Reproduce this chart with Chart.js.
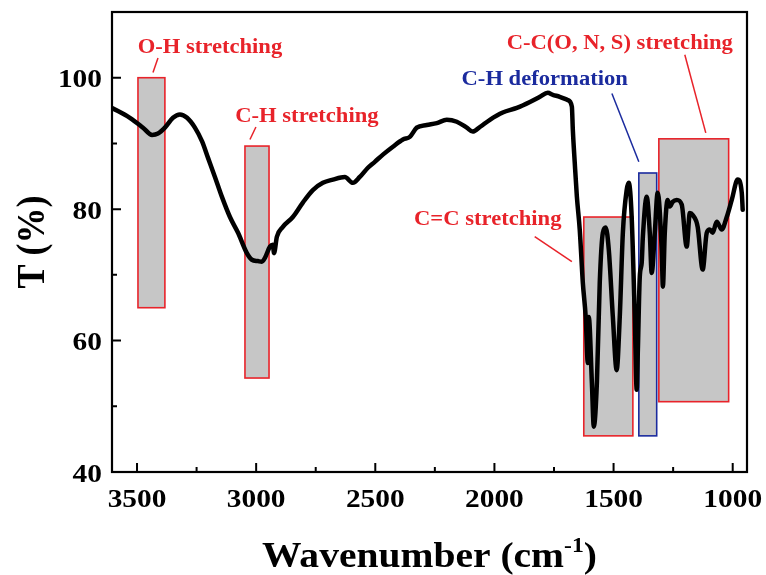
<!DOCTYPE html>
<html>
<head>
<meta charset="utf-8">
<script src="https://cdn.jsdelivr.net/npm/chart.js@4.4.1/dist/chart.umd.min.js"></script>
<style>
  html, body { margin: 0; padding: 0; background: #fff; }
  #fontProbe { position: absolute; left: -999px; top: 0; font: bold 20px "Liberation Serif"; }
</style>
</head>
<body>
<span id="fontProbe">Wavenumber 0123456789</span>
<canvas id="ftir" width="766" height="575"></canvas>
<script>
// FTIR spectrum, wavenumber (cm-1) vs transmittance (%)
const wavenumber = [
  3605, 3530, 3475, 3437, 3412, 3383, 3349, 3320, 3290, 3257,
  3227, 3202, 3173, 3144, 3110, 3076, 3039, 3018, 2993, 2976,
  2963, 2942, 2930, 2925, 2913, 2888, 2846, 2804, 2762, 2720,
  2678, 2628, 2594, 2565, 2531, 2502, 2468, 2426, 2384, 2355,
  2326, 2284, 2242, 2200, 2158, 2116, 2091, 2061, 2019, 1965,
  1906, 1851, 1809, 1776, 1755, 1726, 1692, 1675, 1671, 1663,
  1654, 1642, 1629, 1617, 1608, 1604, 1591, 1583, 1570, 1558,
  1545, 1533, 1520, 1503, 1487, 1474, 1461, 1445, 1436, 1424,
  1411, 1403, 1398, 1390, 1382, 1377, 1361, 1348, 1340, 1327,
  1315, 1298, 1293, 1285, 1273, 1264, 1252, 1235, 1214, 1193,
  1180, 1168, 1147, 1126, 1109, 1096, 1084, 1067, 1046, 1025,
  1004, 979, 962, 958
];
const transmittance = [
  95.4, 93.9, 92.4, 91.3, 91.5, 92.4, 93.9, 94.4, 93.9, 92.4,
  90.3, 87.8, 84.9, 81.9, 78.8, 76.4, 73.3, 72.3, 72.1, 72.0,
  72.6, 74.3, 74.6, 73.3, 75.8, 77.3, 78.8, 81.0, 82.9, 84.0,
  84.5, 84.9, 84.0, 84.9, 86.3, 87.2, 88.3, 89.5, 90.6, 91.0,
  92.4, 92.8, 93.1, 93.6, 93.3, 92.4, 91.8, 92.5, 93.6, 94.7,
  95.4, 96.3, 97.1, 97.7, 97.4, 97.1, 96.6, 95.6, 92.1, 87.1,
  81.9, 76.9, 68.8, 63.6, 56.6, 63.6, 53.6, 46.9, 53.6, 68.8,
  76.4, 77.2, 73.8, 63.6, 55.5, 63.6, 76.4, 82.9, 84.0, 78.8,
  63.6, 52.5, 58.6, 69.7, 71.8, 75.8, 81.9, 76.4, 70.3, 76.4,
  82.5, 73.8, 68.2, 76.4, 81.4, 80.4, 81.1, 81.4, 80.7, 74.3,
  79.4, 79.1, 77.3, 70.8, 76.4, 76.9, 76.4, 78.1, 76.9, 78.8,
  81.4, 84.5, 82.5, 79.9
];

const xTicks = [3500, 3000, 2500, 2000, 1500, 1000];
const yTicks = [40, 60, 80, 100];

// assigned absorption bands (wavenumber range, T range of the shaded box)
const bandNames = ['O-H stretching', 'C-H stretching', 'C=C stretching', 'C-H deformation', 'C-C(O, N, S) stretching'];
const bandFrom = [3496, 3047, 1625, 1394, 1310];
const bandTo   = [3383, 2946, 1419, 1319, 1017];
const bandLow  = [65, 54.3, 45.5, 45.5, 50.7];
const bandHigh = [100, 89.6, 78.8, 85.5, 90.7];

const RED = '#e8232a';
const BLUE = '#1b2b9e';
const bandColor = [RED, RED, RED, BLUE, RED];
// label anchor (baseline centre) and leader line, in data units
const bandLabelAt = [
  { x: 3194, y: 103.8, line: [3433, 100.8, 3412, 103.0] },
  { x: 2787, y: 93.3,  line: [3026, 90.6, 3001, 92.5] },
  { x: 2028, y: 77.6,  line: [1831, 75.8, 1675, 72.0] },
  { x: 1789, y: 98.9,  line: [1507, 97.6, 1394, 87.2] },
  { x: 1474, y: 104.4, line: [1201, 103.5, 1113, 91.6] }
];

const SERIF = '"Liberation Serif", "Times New Roman", Times, serif';
const SX = 1.13; // text in this figure is a little wide

function txt(ctx, s, x, y, size, color, align) {
  ctx.save();
  ctx.translate(x, y);
  ctx.scale(SX, 1);
  ctx.font = 'bold ' + size + 'px ' + SERIF;
  ctx.fillStyle = color;
  ctx.textAlign = align || 'center';
  ctx.textBaseline = 'alphabetic';
  ctx.fillText(s, 0, 0);
  ctx.restore();
}

const ftirDecor = {
  id: 'ftirDecor',
  beforeDatasetsDraw(chart) {
    const { ctx, scales: { x, y } } = chart;
    ctx.save();
    bandNames.forEach((name, i) => {
      const l = x.getPixelForValue(bandFrom[i]);
      const r = x.getPixelForValue(bandTo[i]);
      const t = y.getPixelForValue(bandHigh[i]);
      const b = y.getPixelForValue(bandLow[i]);
      ctx.fillStyle = '#c6c6c6';
      ctx.fillRect(l, t, r - l, b - t);
      ctx.strokeStyle = bandColor[i];
      ctx.lineWidth = 1.6;
      ctx.strokeRect(l, t, r - l, b - t);
    });
    ctx.restore();
  },
  afterDraw(chart) {
    const { ctx, chartArea: a, scales: { x, y } } = chart;
    ctx.save();

    // band labels + leader lines
    bandNames.forEach((name, i) => {
      const p = bandLabelAt[i];
      txt(ctx, name, x.getPixelForValue(p.x), y.getPixelForValue(p.y), 20, bandColor[i]);
      ctx.beginPath();
      ctx.moveTo(x.getPixelForValue(p.line[0]), y.getPixelForValue(p.line[1]));
      ctx.lineTo(x.getPixelForValue(p.line[2]), y.getPixelForValue(p.line[3]));
      ctx.strokeStyle = bandColor[i];
      ctx.lineWidth = 1.5;
      ctx.stroke();
    });

    // frame
    ctx.strokeStyle = '#000';
    ctx.lineWidth = 2.2;
    ctx.strokeRect(a.left, a.top, a.right - a.left, a.bottom - a.top);

    // inward ticks, majors + minors halfway
    ctx.lineWidth = 2;
    ctx.beginPath();
    xTicks.forEach((v, i) => {
      const px = x.getPixelForValue(v);
      ctx.moveTo(px, a.bottom); ctx.lineTo(px, a.bottom - 9);
      const m = x.getPixelForValue(v - 250);
      if (m < a.right) { ctx.moveTo(m, a.bottom); ctx.lineTo(m, a.bottom - 5); }
      if (i === 0) {
        const m0 = x.getPixelForValue(v + 250);
        if (m0 > a.left) { ctx.moveTo(m0, a.bottom); ctx.lineTo(m0, a.bottom - 5); }
      }
    });
    yTicks.forEach(v => {
      const py = y.getPixelForValue(v);
      ctx.moveTo(a.left, py); ctx.lineTo(a.left + 9, py);
      const m = y.getPixelForValue(v + 10);
      ctx.moveTo(a.left, m); ctx.lineTo(a.left + 5, m);
    });
    ctx.stroke();

    // tick labels
    xTicks.forEach(v => txt(ctx, String(v), x.getPixelForValue(v), a.bottom + 35, 26, '#000'));
    yTicks.forEach(v => txt(ctx, String(v), a.left - 10, y.getPixelForValue(v) + 9.5, 26, '#000', 'right'));

    // x title with superscript
    const cx = (a.left + a.right) / 2;
    ctx.font = 'bold 35px ' + SERIF;
    const w1 = ctx.measureText('Wavenumber (cm').width * SX;
    ctx.font = 'bold 21px ' + SERIF;
    const w2 = ctx.measureText('-1').width * SX;
    ctx.font = 'bold 35px ' + SERIF;
    const w3 = ctx.measureText(')').width * SX;
    const sx = cx - (w1 + w2 + w3) / 2;
    const base = 567;
    txt(ctx, 'Wavenumber (cm', sx, base, 35, '#000', 'left');
    txt(ctx, '-1', sx + w1, base - 15, 21, '#000', 'left');
    txt(ctx, ')', sx + w1 + w2, base, 35, '#000', 'left');

    // y title, rotated
    ctx.save();
    ctx.translate(44, (a.top + a.bottom) / 2);
    ctx.rotate(-Math.PI / 2);
    ctx.scale(1, SX);
    ctx.font = 'bold 36px ' + SERIF;
    ctx.fillStyle = '#000';
    ctx.textAlign = 'center';
    ctx.textBaseline = 'alphabetic';
    ctx.fillText('T (%)', 0, 0);
    ctx.restore();

    ctx.restore();
  }
};

function drawChart() {
  new Chart(document.getElementById('ftir'), {
    type: 'line',
    data: {
      datasets: [{
        data: wavenumber.map((w, i) => ({ x: w, y: transmittance[i] })),
        borderColor: '#000',
        borderWidth: 4.5,
        pointRadius: 0,
        fill: false,
        cubicInterpolationMode: 'monotone',
        borderJoinStyle: 'round',
        borderCapStyle: 'round'
      }]
    },
    options: {
      responsive: false,
      animation: false,
      layout: { padding: { left: 0, top: 12, right: 19, bottom: 0 } },
      plugins: { legend: { display: false }, tooltip: { enabled: false } },
      scales: {
        x: {
          type: 'linear', reverse: true, min: 940, max: 3605,
          grid: { display: false }, border: { display: false },
          ticks: { display: false },
          afterFit(s) { s.height = 103; }
        },
        y: {
          min: 40, max: 110,
          grid: { display: false }, border: { display: false },
          ticks: { display: false },
          afterFit(s) { s.width = 112; }
        }
      }
    },
    plugins: [ftirDecor]
  });
}

if (document.fonts && document.fonts.load) {
  document.fonts.load('bold 20px "Liberation Serif"').then(drawChart, drawChart);
} else {
  drawChart();
}
</script>
</body>
</html>
